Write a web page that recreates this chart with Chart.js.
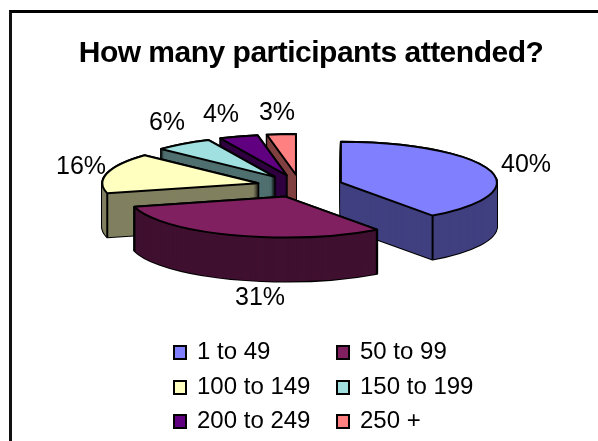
<!DOCTYPE html>
<html>
<head>
<meta charset="utf-8">
<title>How many participants attended?</title>
<script src="https://cdn.jsdelivr.net/npm/chart.js@4/dist/chart.umd.min.js"></script>
<style>
  html, body { margin: 0; height: 100%; background: #fff; overflow: hidden; }
  #frame { position: absolute; left: 9px; top: 10px; width: 700px; height: 600px; border: 3px solid #000; border-left-color: #111; }
  #chart { position: absolute; left: 0; top: 0; }
</style>
</head>
<body>
<div id="frame"></div>
<canvas id="chart" width="598" height="441"></canvas>
<script>
const categories = ["1 to 49", "50 to 99", "100 to 149", "150 to 199", "200 to 249", "250 +"];
const percents = [40, 31, 16, 6, 4, 3];

const topColors = ["#8080FF", "#802060", "#FFFFC0", "#A0E0E0", "#600080", "#FF8080"];
const wallColors = ["#404080", "#401030", "#808060", "#507070", "#300040", "#804040"];

const FONT = '"Liberation Sans", Arial, sans-serif';
const TILT = 0.262;
const EXPLODE = 43;
const THICKNESS = 44;
const TITLE_SHIFT = 11;

// percent label centres, same order as categories
const labelPos = [[526, 165], [260, 298], [81, 167], [167, 123], [221, 115], [277, 113]];
const legendCols = [174, 337];
const legendRows = [352, 387, 421];

function slicePath(ctx, s, shift) {
  ctx.beginPath();
  ctx.moveTo(s.ax, s.ay + shift);
  ctx.ellipse(s.ax, s.ay + shift, s.rx, s.ry, 0, s.start, s.end);
  ctx.closePath();
}

const pie3d = {
  id: "pie3d",
  beforeDraw(chart) {
    // the title is set tight and sits right of centre in the original
    chart.ctx.save();
    chart.ctx.letterSpacing = "-0.5px";
    chart.ctx.translate(TITLE_SHIFT, 0);
  },
  beforeDatasetsDraw(chart) {
    chart.ctx.restore();
    chart.ctx.letterSpacing = "0px";
  },
  // arcs get drawn below as tilted slices instead
  beforeDatasetDraw() {
    return false;
  },
  afterDatasetsDraw(chart) {
    const ctx = chart.ctx;
    const slices = chart.getDatasetMeta(0).data.map((arc, i) => {
      const p = arc.getProps(["x", "y", "startAngle", "endAngle", "outerRadius"], true);
      const mid = (p.startAngle + p.endAngle) / 2;
      return {
        i,
        mid,
        start: p.startAngle,
        end: p.endAngle,
        rx: p.outerRadius,
        ry: p.outerRadius * TILT,
        ax: p.x + Math.cos(mid) * EXPLODE,
        ay: p.y + Math.sin(mid) * EXPLODE * TILT
      };
    });

    slices.sort((a, b) => Math.sin(a.mid) - Math.sin(b.mid));

    ctx.save();
    ctx.lineJoin = "round";
    slices.forEach((s) => {
      // sweep the face downwards: black first, so the silhouette stays outlined
      ctx.strokeStyle = "#000";
      ctx.lineWidth = 2;
      for (let k = THICKNESS; k >= 0; k--) {
        slicePath(ctx, s, k);
        ctx.stroke();
      }
      ctx.fillStyle = wallColors[s.i];
      for (let k = THICKNESS; k >= 0; k--) {
        slicePath(ctx, s, k);
        ctx.fill();
      }
      // corner edges that face the viewer
      [s.start, s.end].forEach((a) => {
        if (Math.sin(a) > 0) {
          const vx = s.ax + Math.cos(a) * s.rx;
          const vy = s.ay + Math.sin(a) * s.ry;
          ctx.beginPath();
          ctx.moveTo(vx, vy);
          ctx.lineTo(vx, vy + THICKNESS);
          ctx.stroke();
        }
      });
      slicePath(ctx, s, 0);
      ctx.fillStyle = topColors[s.i];
      ctx.fill();
      ctx.stroke();
    });
    ctx.restore();

    drawLabels(chart);
    drawLegend(chart);
  }
};

function drawLabels(chart) {
  const ctx = chart.ctx;
  ctx.save();
  ctx.font = "25px " + FONT;
  ctx.fillStyle = "#000";
  ctx.textAlign = "center";
  ctx.textBaseline = "middle";
  percents.forEach((v, i) => {
    ctx.fillText(v + "%", labelPos[i][0], labelPos[i][1]);
  });
  ctx.restore();
}

function drawLegend(chart) {
  const ctx = chart.ctx;
  ctx.save();
  ctx.font = "24px " + FONT;
  ctx.textBaseline = "middle";
  ctx.lineWidth = 2;
  ctx.strokeStyle = "#000";
  chart.data.labels.forEach((label, i) => {
    const x = legendCols[i % 2];
    const y = legendRows[Math.floor(i / 2)];
    ctx.fillStyle = topColors[i];
    ctx.fillRect(x, y - 6, 12, 13);
    ctx.strokeRect(x, y - 6, 12, 13);
    ctx.fillStyle = "#000";
    ctx.fillText(label, x + 23, y);
  });
  ctx.restore();
}

new Chart(document.getElementById("chart"), {
  type: "pie",
  data: {
    labels: categories,
    datasets: [{ data: percents, backgroundColor: topColors, borderColor: "#000", radius: 156 }]
  },
  plugins: [pie3d],
  options: {
    responsive: false,
    animation: false,
    layout: { padding: { left: 2, bottom: 151 } },
    plugins: {
      legend: { display: false },
      tooltip: { enabled: false },
      title: {
        display: true,
        text: "How many participants attended?",
        color: "#000",
        font: { family: FONT, size: 30, weight: "bold", lineHeight: 1.2 },
        padding: { top: 36, bottom: 10 }
      }
    }
  }
});
</script>
</body>
</html>
